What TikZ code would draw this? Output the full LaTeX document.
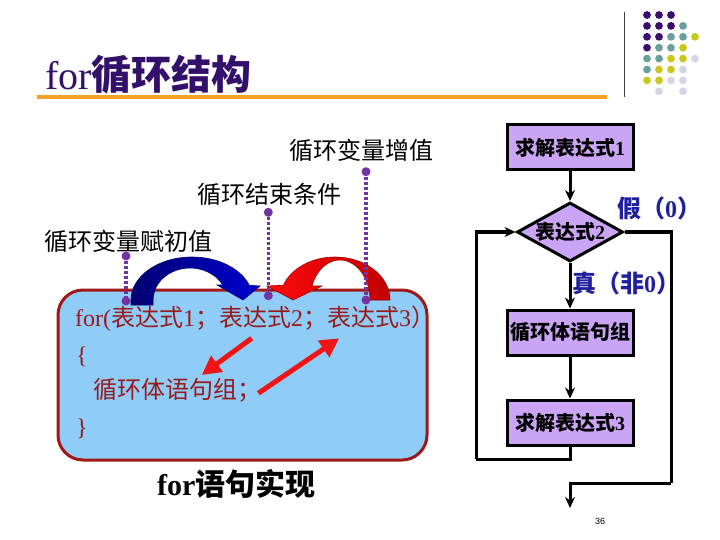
\documentclass[tikz,border=0pt]{standalone}
\usepackage{fontspec}
\setmainfont{Liberation Serif}
\setsansfont{Liberation Sans}
\newfontfamily\cjk{Noto Sans CJK SC}
\usetikzlibrary{arrows.meta,shapes.geometric}
\newcommand{\zh}[1]{{\cjk #1}}
\definecolor{titlepurple}{HTML}{33106A}
\definecolor{lineorange}{HTML}{F2A227}
\definecolor{dotp}{HTML}{3B0F6B}
\definecolor{dott}{HTML}{6B9E9E}
\definecolor{doty}{HTML}{C9C91C}
\definecolor{dotl}{HTML}{D5D5E8}
\definecolor{boxblue}{HTML}{8FCCF7}
\definecolor{boxred}{HTML}{A01818}
\definecolor{boxtext}{HTML}{9A1A1A}
\definecolor{lav}{HTML}{CBA5F5}
\definecolor{lblblue}{HTML}{1F1F9F}
\definecolor{dotpurple}{HTML}{7433A3}
\definecolor{navyA}{HTML}{000070}
\definecolor{blueB}{HTML}{0000D0}
\definecolor{redA}{HTML}{FF0A0A}
\definecolor{redB}{HTML}{C00000}
\definecolor{arrred}{HTML}{F01414}
\tikzset{
  fbox/.style={draw=black, line width=3pt, fill=lav, minimum width=126pt, minimum height=45pt, inner sep=0pt, font=\fontsize{20}{20}\selectfont\bfseries},
  flow/.style={line width=3pt, -{Stealth[length=11pt,width=10pt]}},
  plainflow/.style={line width=3pt},
  lbl/.style={anchor=base west, inner sep=0pt, font=\fontsize{24}{24}\selectfont},
  boxtxt/.style={anchor=base west, inner sep=0pt, text=boxtext, font=\fontsize{24}{24}\selectfont},
  dotend/.style={circle, fill=dotpurple, inner sep=0pt, minimum size=9pt},
  dotline/.style={draw=dotpurple, line width=3.5pt, dash pattern=on 3pt off 2pt},
  redarrow/.style={draw=arrred, line width=5pt, -{Triangle[length=19pt,width=19pt]}},
  tf/.style={anchor=west, inner sep=0pt, text=lblblue, font=\fontsize{24}{24}\selectfont\bfseries}
}
\begin{document}
\begin{tikzpicture}[x=1pt,y=-1pt]
\useasboundingbox (0,0) rectangle (720,540);
\fill[white] (0,0) rectangle (720,540);

% title
\node[anchor=base west, inner sep=0pt, text=titlepurple, font=\fontsize{40}{40}\selectfont] (title) at (45,89.5) {for{\cjk\bfseries 循环结构}};
\fill[lineorange] (37,95) rectangle (607,99);
\draw[line width=1pt, black!75] (624,12) -- (624,97);
\foreach \c/\r/\k in {0/0/dotp,1/0/dotp,2/0/dotp,
  0/1/dotp,1/1/dotp,2/1/dotp,3/1/dott,
  0/2/dotp,1/2/dotp,2/2/dott,3/2/dott,4/2/doty,
  0/3/dotp,1/3/dott,2/3/dott,3/3/doty,
  0/4/dott,1/4/dott,2/4/doty,3/4/doty,4/4/dotl,
  0/5/dott,1/5/doty,2/5/doty,3/5/dotl,
  0/6/doty,1/6/doty,2/6/dotl,3/6/dotl,
  1/7/dotl,3/7/dotl}
  \fill[\k] ({647+12*\c},{15+10.9*\r}) circle (3.9);

% labels
\node[lbl] (inc) at (289,160) {\zh{循环变量增值}};
\node[lbl] (cond) at (197,203.3) {\zh{循环结束条件}};
\node[lbl] (init) at (44,250) {\zh{循环变量赋初值}};

% code box
\node[draw=boxred, fill=boxblue, line width=3pt, rounded corners=25pt, minimum width=369pt, minimum height=170pt, inner sep=0pt] (box) at (242.5,375) {};

% curved block arrows
\path[left color=navyA, right color=blueB, draw=navyA, line width=0.6pt]
  (131,305) -- (131,300) arc[start angle=180, end angle=340, x radius=61, y radius=43]
  -- (260,286) -- (243,300) -- (217,285) -- (222.7,285)
  arc[start angle=332, end angle=180, x radius=37, y radius=32] -- (153,305) -- cycle;
\path[left color=redA, right color=redB, draw=redB!80!black, line width=0.6pt]
  (390,300) arc[start angle=360, end angle=200, x radius=55, y radius=43]
  -- (267,286) -- (293,300) -- (322,286) -- (311.9,286)
  arc[start angle=200.5, end angle=360, x radius=30, y radius=40] -- cycle;

% box text
\node[boxtxt] (l1) at (75,326.3) {for(\zh{表达式}1\zh{；表达式}2\zh{；表达式}3\zh{）}};
\node[boxtxt] (l2) at (76,363.7) {\{};
\node[boxtxt] (l3) at (93,398.3) {\zh{循环体语句组；}};
\node[boxtxt] (l4) at (76,435.7) {\}};

% red straight arrows
\coordinate (r1s) at (251.7,338.3);
\coordinate (r1e) at (201.7,375);
\coordinate (r2s) at (258.3,393.3);
\coordinate (r2e) at (339.3,338.3);
\draw[redarrow] (r1s) -- (r1e);
\draw[redarrow] (r2s) -- (r2e);

% dotted pointers
\node[dotend] (d1t) at (126,256) {};
\node[dotend] (d1b) at (126,301) {};
\node[dotend] (d2t) at (268.3,212.3) {};
\node[dotend] (d2b) at (268.3,295.7) {};
\node[dotend] (d3t) at (366,171.7) {};
\node[dotend] (d3b) at (366,300) {};
\draw[dotline] (d1t.center) -- (d1b.center);
\draw[dotline] (d2t.center) -- (d2b.center);
\draw[dotline] (d3t.center) -- (d3b.center);

% caption
\node[anchor=base west, inner sep=0pt, font=\fontsize{30}{30}\selectfont\bfseries] (cap) at (157,495) {for{\cjk 语句实现}};

% flowchart
\node[fbox] (b1) at (570,147.5) {\zh{求解表达式}1};
\node[fbox, shape=diamond, aspect=1.8, minimum width=106pt, minimum height=59pt] (dm) at (570,232) {\zh{表达式}2};
\node[fbox] (b2) at (570,332.5) {\zh{循环体语句组}};
\node[fbox] (b3) at (570,422.5) {\zh{求解表达式}3};
\node[tf] (false) at (617,208) {\zh{假（}0\zh{）}};
\node[tf] (true) at (572,283) {\zh{真（非}0\zh{）}};
\coordinate (lp) at (476,459);
\coordinate (rp) at (671,483);
\coordinate (endp) at (570,508);
\draw[flow] (b1) -- (dm);
\draw[flow] (dm) -- (b2);
\draw[flow] (b2) -- (b3);
\draw[plainflow] (b3.south) |- (lp);
\draw[flow] (lp) |- (dm.west);
\draw[plainflow] (dm.east) -| (rp);
\draw[flow] (rp) -| (endp);

\node[font=\sffamily\fontsize{9}{9}\selectfont] (pg) at (600,521) {36};
\end{tikzpicture}
\end{document}
